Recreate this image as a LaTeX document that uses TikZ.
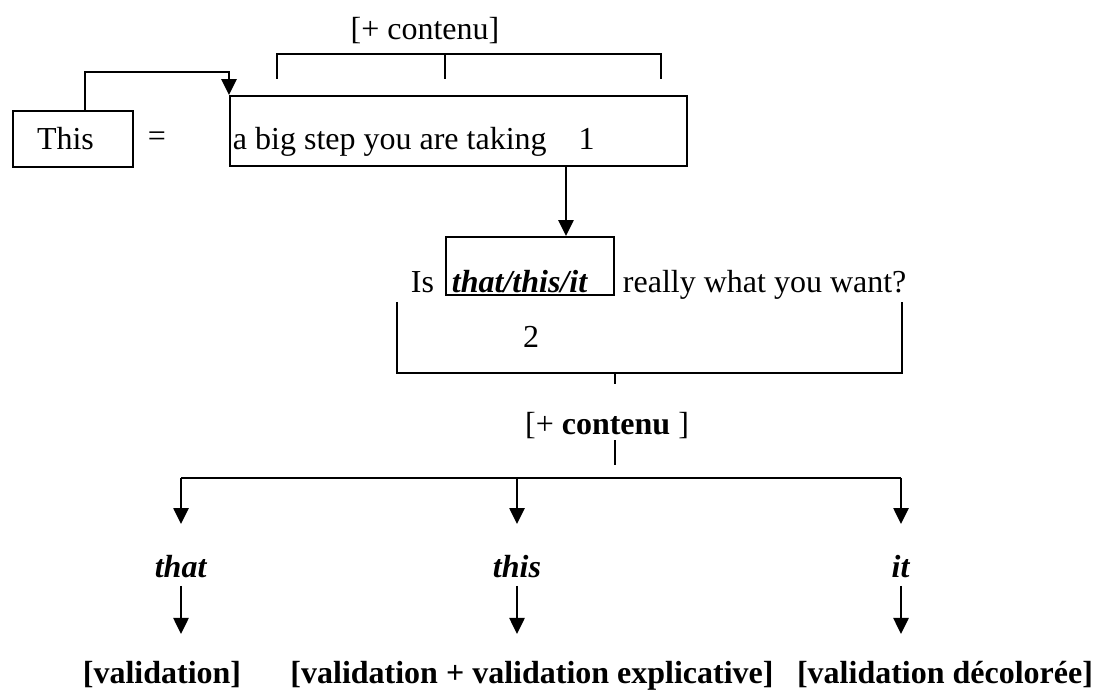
\documentclass[tikz,border=0pt]{standalone}
\usepackage{fontspec}
\setmainfont{Liberation Serif}
\usetikzlibrary{arrows.meta, positioning, calc}

\begin{document}
\begin{tikzpicture}[
  line width=1.4pt,
  font=\fontsize{22.76pt}{27pt}\selectfont,
  arr/.style={-{Triangle[length=0.4cm, width=0.38cm]}},
  txt/.style={inner sep=0pt},
  lbl/.style={inner sep=0pt, text height=0.55cm, text depth=0cm, anchor=base},
  box/.style={draw, inner ysep=0pt, align=left}
]
\useasboundingbox (0,0) rectangle (27.4,17.3);

\node[txt] (ct1) at (10.625,16.525) {[+ contenu]};
\coordinate (b1) at (6.925,15.325);
\coordinate (b2) at (11.125,15.325);
\coordinate (b3) at (16.525,15.325);
\draw (b1) -- ++(0,0.625) -| (b3);
\draw (b2) -- ++(0,0.625);

\node[box, minimum width=3cm, minimum height=1.4cm, text width=1.8cm] (this) at (1.825,13.825) {This};
\node[txt] (eq) at (3.925,13.825) {=};
\node[box, anchor=south west, inner xsep=0.075cm, text width=11.275cm, text height=1.325cm, text depth=0.425cm] (big) at (5.725,13.125)
     {\spaceskip=0.25em a big step you are taking\hspace{1em}1};
\draw[arr] ([xshift=3mm]this.north) -- ++(0,0.95) -| (big.north west);

\node[box, anchor=south west, inner xsep=0.15cm, text width=3.9cm, text height=1.375cm, text depth=0.075cm] (tti) at (11.125,9.9)
     {\textbf{\textit{\underline{that/this/it}}}};
\node[txt, base left=0.25cm of tti.base west] (is) {Is};
\node[txt, base right=0.175cm of tti.base east] (want) {really what you want?};
\draw[arr] ([xshift=2.6875cm]big.south) -- ([xshift=9mm]tti.north);

\coordinate (k1) at (9.925,9.75);
\coordinate (k2) at (22.55,9.75);
\draw (k1) -- ++(0,-1.775) coordinate (k3) -| (k2);
\node[txt] (two) at (13.275,8.875) {2};
\draw (tti.east |- k3) -- ++(0,-0.275);

\node[txt] (ct2) at (15.175,6.65) {[+ \textbf{contenu} ]};
\draw (tti.east |- ct2.south) -- ++(0,-0.625);

\coordinate (t1) at (4.525,5.35);
\coordinate (t2) at (12.925,5.35);
\coordinate (t3) at (22.525,5.35);
\draw (t1) -- (t3);

\node[lbl] (that) at (4.525,2.85) {\textbf{\textit{that}}};
\node[lbl] (thisw) at (12.925,2.85) {\textbf{\textit{this}}};
\node[lbl] (it) at (22.525,2.85) {\textbf{\textit{it}}};
\draw[arr] (t1) -- ([yshift=7.75mm]that.north);
\draw[arr] (t2) -- ([yshift=7.75mm]thisw.north);
\draw[arr] (t3) -- ([yshift=7.75mm]it.north);

\node[lbl] (v1) at (4.05,0.22) {\textbf{[validation]}};
\node[lbl] (v2) at (13.3,0.22) {\textbf{[validation + validation explicative]}};
\node[lbl] (v3) at (23.625,0.22) {\textbf{[validation décolorée]}};
\draw[arr] ([yshift=-1.75mm]that.south) -- ++(0,-1.2);
\draw[arr] ([yshift=-1.75mm]thisw.south) -- ++(0,-1.2);
\draw[arr] ([yshift=-1.75mm]it.south) -- ++(0,-1.2);
\end{tikzpicture}
\end{document}
